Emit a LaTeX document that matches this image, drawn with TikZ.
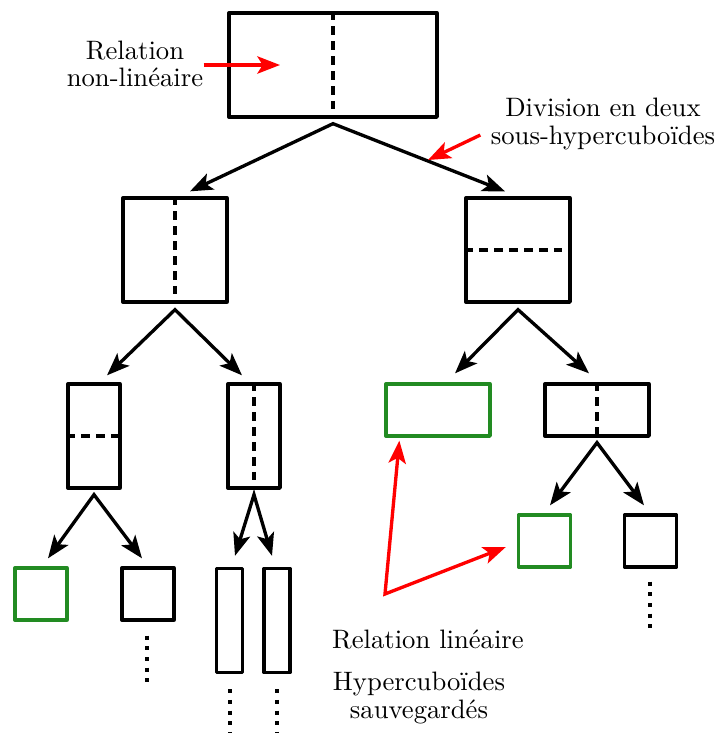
\documentclass[tikz,border=0pt]{standalone}
\usepackage{fontspec}
\usetikzlibrary{arrows.meta,calc}
\definecolor{boxgreen}{RGB}{34,139,34}
\definecolor{arrred}{RGB}{255,0,0}
\begin{document}
\begin{tikzpicture}[x=0.375pt,y=-0.375pt,
  box/.style={draw,line width=1.25pt,rectangle,inner sep=0pt,line join=round},
  gbox/.style={box,draw=boxgreen},
  bigbox/.style={minimum width=78pt,minimum height=39pt},
  sqbox/.style={minimum width=39pt,minimum height=39pt},
  halfv/.style={minimum width=19.5pt,minimum height=39pt},
  halfh/.style={minimum width=39pt,minimum height=19.5pt},
  smallsq/.style={minimum width=19.5pt,minimum height=19.5pt},
  thinbox/.style={minimum width=9.75pt,minimum height=39pt},
  divider/.style={line width=1.25pt,dash pattern=on 3.2pt off 2.4pt},
  tip/.tip={Stealth[length=8.5pt,width=6.5pt,inset=2pt]},
  arr/.style={line width=1.25pt,line join=miter,tip-tip},
  onearr/.style={line width=1.25pt,-tip},
  rarr/.style={onearr,draw=arrred},
  rdarr/.style={arr,draw=arrred},
  dots/.style={line width=1.5pt,dash pattern=on 1.5pt off 2.5pt},
  txt/.style={align=center,inner sep=0pt,font=\fontsize{10}{10.3}\selectfont}]
\useasboundingbox (0,0) rectangle (718,733);

% boxes
\node[box,bigbox] (top) at (333,65) {};
\node[box,sqbox] (l2l) at (175,250) {};
\node[box,sqbox] (l2r) at (518,250) {};
\node[box,halfv] (a) at (94,436) {};
\node[box,halfv] (b) at (254,436) {};
\node[gbox,halfh] (c) at (438,410) {};
\node[box,halfh] (d) at (597,410) {};
\node[gbox,smallsq] (e) at (41,594) {};
\node[box,smallsq] (f) at (148,594) {};
\node[box,thinbox] (g) at (229.5,620.5) {};
\node[box,thinbox] (h) at (277,620.5) {};
\node[gbox,smallsq] (i) at (544.5,541) {};
\node[box,smallsq] (j) at (650.5,541) {};

% dividers
\draw[divider] (top.north) -- (top.south);
\draw[divider] (l2l.north) -- (l2l.south);
\draw[divider] (l2r.west) -- (l2r.east);
\draw[divider] (a.west) -- (a.east);
\draw[divider] (b.north) -- (b.south);
\draw[divider] (d.north) -- (d.south);

% tree arrows
\draw[arr] ($(l2l.north)+(15,-5)$) -- ($(top.south)+(0,5)$) -- ($(l2r.north)+(-13,-5)$);
\draw[arr] ($(a.north)+(13,-7)$) -- ($(l2l.south)+(0,6)$) -- ($(b.north)+(-12,-7)$);
\draw[arr] ($(c.north)+(17,-9)$) -- ($(l2r.south)+(0,6)$) -- ($(d.north)+(-8,-9)$);
\draw[arr] ($(i.north)+(5.5,-8)$) -- ($(d.south)+(0,5)$) -- ($(j.north)+(-6.5,-8)$);
\draw[arr] ($(e.north)+(7,-8)$) -- ($(a.south)+(0,5)$) -- ($(f.north)+(-6,-8)$);
\draw[arr] ($(g.north)+(5.5,-11)$) -- ($(b.south)+(0,5)$) -- ($(h.north)+(-5,-11)$);

% continuation dots
\draw[dots] ($(f.south)+(-1,14)$) -- ++(0,46);
\draw[dots] ($(g.south)+(0,15)$) -- ++(0,50);
\draw[dots] ($(h.south)+(0,15)$) -- ++(0,50);
\draw[dots] ($(j.south)+(-0.5,13)$) -- ++(0,46);

% texts
\node[txt] (relnl) at (135,64) {Relation\\non-linéaire};
\node[txt] (divtxt) at (603,124) {Division en deux\\sous-hypercuboïdes};
\node[txt,anchor=base] (rellin) at (428,648) {Relation linéaire};
\node[txt] (hypsav) at (419,698) {Hypercuboïdes\\sauvegardés};

% red arrows
\coordinate (divpt) at (428,160);
\coordinate (corner) at (385,594);
\draw[rarr] (relnl.east |- top.center) -- ($(top.center)+(-53,0)$);
\draw[rarr] ($(divtxt.west)+(-10,11)$) -- (divpt);
\draw[rdarr] ($(c.south west)+(15,3)$) -- (corner) -- ($(i.west)+(-11,6)$);
\end{tikzpicture}
\end{document}
